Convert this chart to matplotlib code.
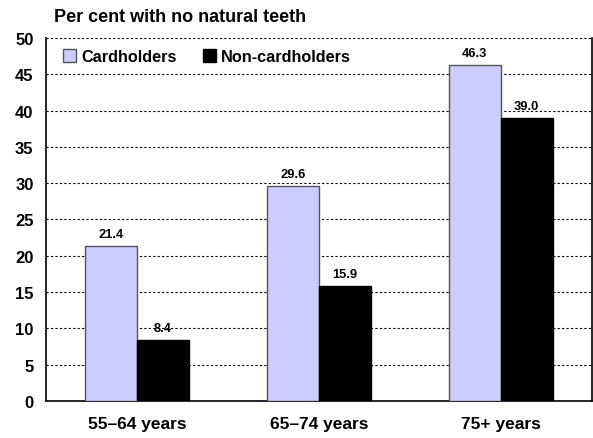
import numpy as np
import matplotlib.pyplot as plt
from matplotlib.patches import Patch

plt.rcParams["font.family"] = ["Liberation Sans", "DejaVu Sans"]

groups = ["55\u201364 years", "65\u201374 years", "75+ years"]
cardholders = [21.4, 29.6, 46.3]
non_cardholders = [8.4, 15.9, 39.0]

fig = plt.figure(figsize=(5.93, 4.39), dpi=100)
ax = fig.add_axes([0.0776, 0.0843, 0.920, 0.827])

x = np.arange(len(groups))
w = 0.286
b1 = ax.bar(x - w / 2, cardholders, w, color="#CCCCFF", edgecolor="#555555", linewidth=1, zorder=3)
b2 = ax.bar(x + w / 2, non_cardholders, w, color="black", edgecolor="black", linewidth=1, zorder=3)

for bars, vals in ((b1, cardholders), (b2, non_cardholders)):
    for r, v in zip(bars, vals):
        ax.text(r.get_x() + r.get_width() / 2, v + 0.8, f"{v:.1f}", ha="center", va="bottom",
                fontsize=9.3, fontweight="bold", zorder=4)

ax.set_xlim(-0.5, 2.5)
ax.set_ylim(0, 50)
ax.set_yticks(range(0, 51, 5))
ax.set_xticks(x)
ax.set_xticklabels(groups, fontsize=12.5, fontweight="bold")
ax.tick_params(axis="x", length=0, pad=11)
ax.tick_params(axis="y", length=0, pad=9, labelsize=12)
for lab in ax.get_yticklabels():
    lab.set_fontweight("bold")

ax.yaxis.grid(True, linestyle=(0, (2, 2)), color="black", linewidth=0.8, zorder=0)
ax.spines["top"].set_visible(False)
for s in ("left", "right", "bottom"):
    ax.spines[s].set_linewidth(1.2)

fig.text(0.091, 0.961, "Per cent with no natural teeth", fontsize=13, fontweight="bold", va="center")

handles = [Patch(facecolor="#CCCCFF", edgecolor="#555555", label="Cardholders"),
           Patch(facecolor="black", edgecolor="black", label="Non-cardholders")]
ax.legend(handles=handles, loc="upper left", bbox_to_anchor=(0.005, 1.01), ncol=2, frameon=False,
          prop={"weight": "bold", "size": 11.7}, handlelength=0.8, handleheight=0.8,
          handletextpad=0.3, columnspacing=1.6)

fig.savefig("out.png", dpi=100)
